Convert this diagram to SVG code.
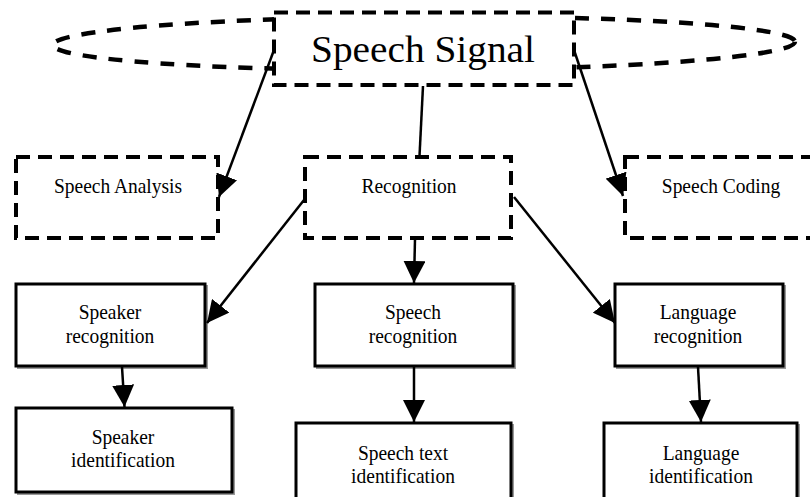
<svg xmlns="http://www.w3.org/2000/svg" width="810" height="497" viewBox="0 0 810 497">
<defs>
<style>
.dash{fill:#fff;stroke:#000;stroke-width:4;stroke-dasharray:14 8}
.ell{fill:none;stroke:#000;stroke-width:4.5;stroke-dasharray:14 12}
.box{fill:#fff;stroke:#000;stroke-width:3}
.shadow{fill:none;stroke:#999;stroke-width:2}
.lbl{font-family:"Liberation Serif","Times New Roman",serif;font-size:22px;fill:#000;text-anchor:middle}
.conn{stroke:#000;stroke-width:2.5;fill:none}
</style>
<marker id="ah" markerUnits="userSpaceOnUse" markerWidth="22" markerHeight="22" refX="22" refY="11" orient="auto" viewBox="0 0 22 22">
<path d="M0,0 L22,11 L0,22 z" fill="#000"/>
</marker>
</defs>
<rect width="810" height="497" fill="#fff"/>
<g id="speech-signal">
<ellipse cx="424" cy="43.3" rx="371" ry="27" class="ell" transform="rotate(-0.25 424 43.3)"/>
<rect x="274" y="12.5" width="300" height="72.5" class="dash"/>
<text x="423" y="62" class="lbl" style="font-size:38px" textLength="224" lengthAdjust="spacingAndGlyphs">Speech Signal</text>
</g>
<g id="speech-analysis">
<rect x="16" y="157" width="202" height="81" class="dash"/>
<text transform="translate(118,193) scale(0.885,1)" class="lbl">Speech Analysis</text>
</g>
<g id="recognition">
<rect x="305" y="157" width="206" height="81" class="dash"/>
<text transform="translate(409,193) scale(0.885,1)" class="lbl">Recognition</text>
</g>
<g id="speech-coding">
<rect x="625" y="157" width="200" height="81" class="dash"/>
<text transform="translate(721,193) scale(0.885,1)" class="lbl">Speech Coding</text>
</g>
<g id="speaker-recognition">
<rect x="18" y="286" width="189" height="82" class="shadow"/>
<rect x="16" y="284" width="189" height="82" class="box"/>
<text transform="translate(110,319) scale(0.885,1)" class="lbl">Speaker</text>
<text transform="translate(110,343) scale(0.885,1)" class="lbl">recognition</text>
</g>
<g id="speech-recognition">
<rect x="317" y="286" width="198" height="82" class="shadow"/>
<rect x="315" y="284" width="198" height="82" class="box"/>
<text transform="translate(413,319) scale(0.885,1)" class="lbl">Speech</text>
<text transform="translate(413,343) scale(0.885,1)" class="lbl">recognition</text>
</g>
<g id="language-recognition">
<rect x="617" y="286" width="168" height="82" class="shadow"/>
<rect x="615" y="284" width="168" height="82" class="box"/>
<text transform="translate(698,319) scale(0.885,1)" class="lbl">Language</text>
<text transform="translate(698,343) scale(0.885,1)" class="lbl">recognition</text>
</g>
<g id="speaker-identification">
<rect x="18" y="410" width="216" height="84" class="shadow"/>
<rect x="16" y="408" width="216" height="84" class="box"/>
<text transform="translate(123,444) scale(0.885,1)" class="lbl">Speaker</text>
<text transform="translate(123,467) scale(0.885,1)" class="lbl">identification</text>
</g>
<g id="speech-text-identification">
<rect x="298" y="425" width="215" height="80" class="shadow"/>
<rect x="296" y="423" width="215" height="80" class="box"/>
<text transform="translate(403,460) scale(0.885,1)" class="lbl">Speech text</text>
<text transform="translate(403,483) scale(0.885,1)" class="lbl">identification</text>
</g>
<g id="language-identification">
<rect x="606" y="425" width="193" height="80" class="shadow"/>
<rect x="604" y="423" width="193" height="80" class="box"/>
<text transform="translate(701,460) scale(0.885,1)" class="lbl">Language</text>
<text transform="translate(701,483) scale(0.885,1)" class="lbl">identification</text>
</g>
<g id="connectors">
<line x1="274" y1="50" x2="219" y2="197" class="conn" marker-end="url(#ah)"/>
<line x1="423" y1="86" x2="419.5" y2="156" class="conn"/>
<line x1="574" y1="50" x2="623" y2="196" class="conn" marker-end="url(#ah)"/>
<line x1="304" y1="200" x2="207" y2="323" class="conn" marker-end="url(#ah)"/>
<line x1="415" y1="239" x2="414" y2="283" class="conn" marker-end="url(#ah)"/>
<line x1="514" y1="197" x2="615" y2="323" class="conn" marker-end="url(#ah)"/>
<line x1="122" y1="367" x2="124.5" y2="407" class="conn" marker-end="url(#ah)"/>
<line x1="414" y1="367" x2="414" y2="422" class="conn" marker-end="url(#ah)"/>
<line x1="698" y1="367" x2="701" y2="422" class="conn" marker-end="url(#ah)"/>
</g>
</svg>
